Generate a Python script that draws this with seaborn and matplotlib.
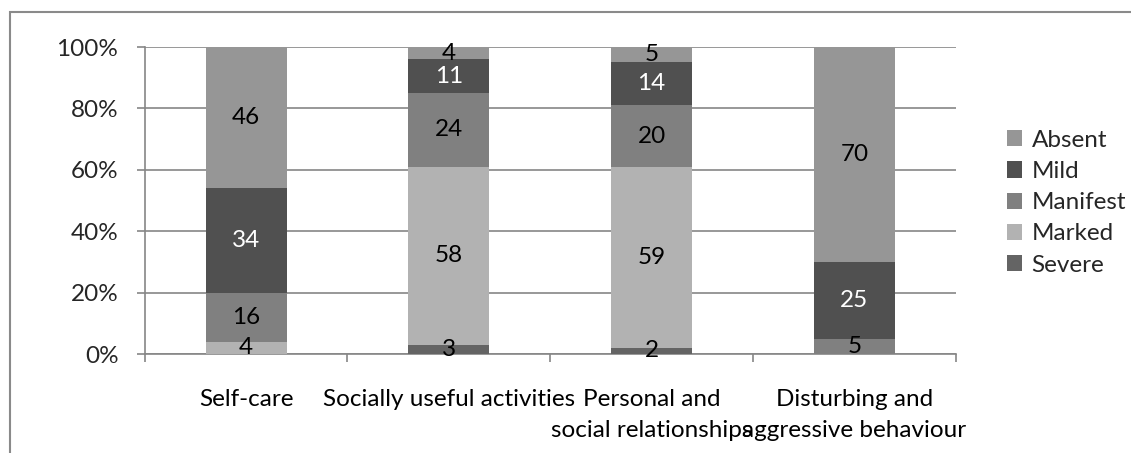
import matplotlib
matplotlib.use("Agg")
import matplotlib.pyplot as plt
import seaborn as sns
import numpy as np
import pandas as pd
from matplotlib.patches import Patch, Rectangle

categories = ["Self-care", "Socially useful activities",
              "Personal and\nsocial relationships",
              "Disturbing and\naggressive behaviour"]
series = ["Severe", "Marked", "Manifest", "Mild", "Absent"]  # bottom to top
severe = [0, 3, 2, 0]
marked = [4, 58, 59, 0]
manifest = [16, 24, 20, 5]
mild = [34, 11, 14, 25]
absent = [46, 4, 5, 70]
values = {"Severe": severe, "Marked": marked, "Manifest": manifest,
          "Mild": mild, "Absent": absent}
colors = {"Severe": "#646464", "Marked": "#b2b2b2", "Manifest": "#808080",
          "Mild": "#505050", "Absent": "#969696"}
label_colors = {"Severe": "black", "Marked": "black", "Manifest": "black",
                "Mild": "white", "Absent": "black"}
yticks = [0, 20, 40, 60, 80, 100]
ytick_labels = ["0%", "20%", "40%", "60%", "80%", "100%"]

sns.set_theme(style="white")
plt.rcParams["font.family"] = ["Lato", "DejaVu Sans"]
FS = 17.5

fig = plt.figure(figsize=(11.31, 4.53), dpi=100)
ax = fig.add_axes([0.128, 0.2185, 0.845 - 0.128, 0.896 - 0.2185])

# cumulative tops
df = pd.DataFrame(values, index=categories)
cum = df[series].cumsum(axis=1)
for s in reversed(series):
    sns.barplot(x=list(range(len(categories))), y=cum[s].values, color=colors[s],
                width=0.4, saturation=1, ax=ax, native_scale=True, zorder=3,
                linewidth=0, edgecolor="none")

# labels
for i, cat in enumerate(categories):
    bottom = 0
    for s in series:
        v = df.loc[cat, s]
        if v > 0:
            ax.text(i, bottom + v / 2, str(v), ha="center", va="center",
                    fontsize=FS, color=label_colors[s], zorder=5)
        bottom += v

ax.set_xlim(-0.5, 3.5)
ax.set_ylim(0, 100)
ax.set_yticks(yticks)
ax.set_yticklabels(ytick_labels, fontsize=FS)
ax.set_xticks(range(len(categories)))
ax.set_xticklabels(categories, fontsize=FS, linespacing=1.6)
ax.set_xticks([-0.5, 0.5, 1.5, 2.5, 3.5], minor=True)
ax.tick_params(axis="x", which="major", length=0, pad=25, colors="black")
ax.tick_params(axis="x", which="minor", length=6, width=1.2, color="#868686",
               direction="out", bottom=True)
ax.tick_params(axis="y", length=6, width=1.2, color="#868686", pad=13,
               direction="out", left=True)
ax.set_xlabel("")
ax.set_ylabel("")
ax.yaxis.grid(True, color="#868686", linewidth=1.2, zorder=0)
ax.set_axisbelow(True)
for sp in ["top", "right"]:
    ax.spines[sp].set_visible(False)
for sp in ["left", "bottom"]:
    ax.spines[sp].set_color("#868686")
    ax.spines[sp].set_linewidth(1.2)

handles = [Patch(facecolor=colors[s], edgecolor="none", label=s) for s in reversed(series)]
leg = fig.legend(handles=handles, loc="upper left", bbox_to_anchor=(0.882, 0.735),
                 frameon=False, fontsize=FS, handlelength=0.6, handleheight=0.65,
                 handletextpad=0.4, labelspacing=0.42, borderaxespad=0)

# outer chart border
fig.patches.append(Rectangle((10 / 1131, -0.1), 1.2, 1 - 12 / 453 + 0.1,
                             transform=fig.transFigure, fill=False,
                             edgecolor="#8a8a8a", linewidth=1.5))

fig.savefig("out.png", dpi=100)
